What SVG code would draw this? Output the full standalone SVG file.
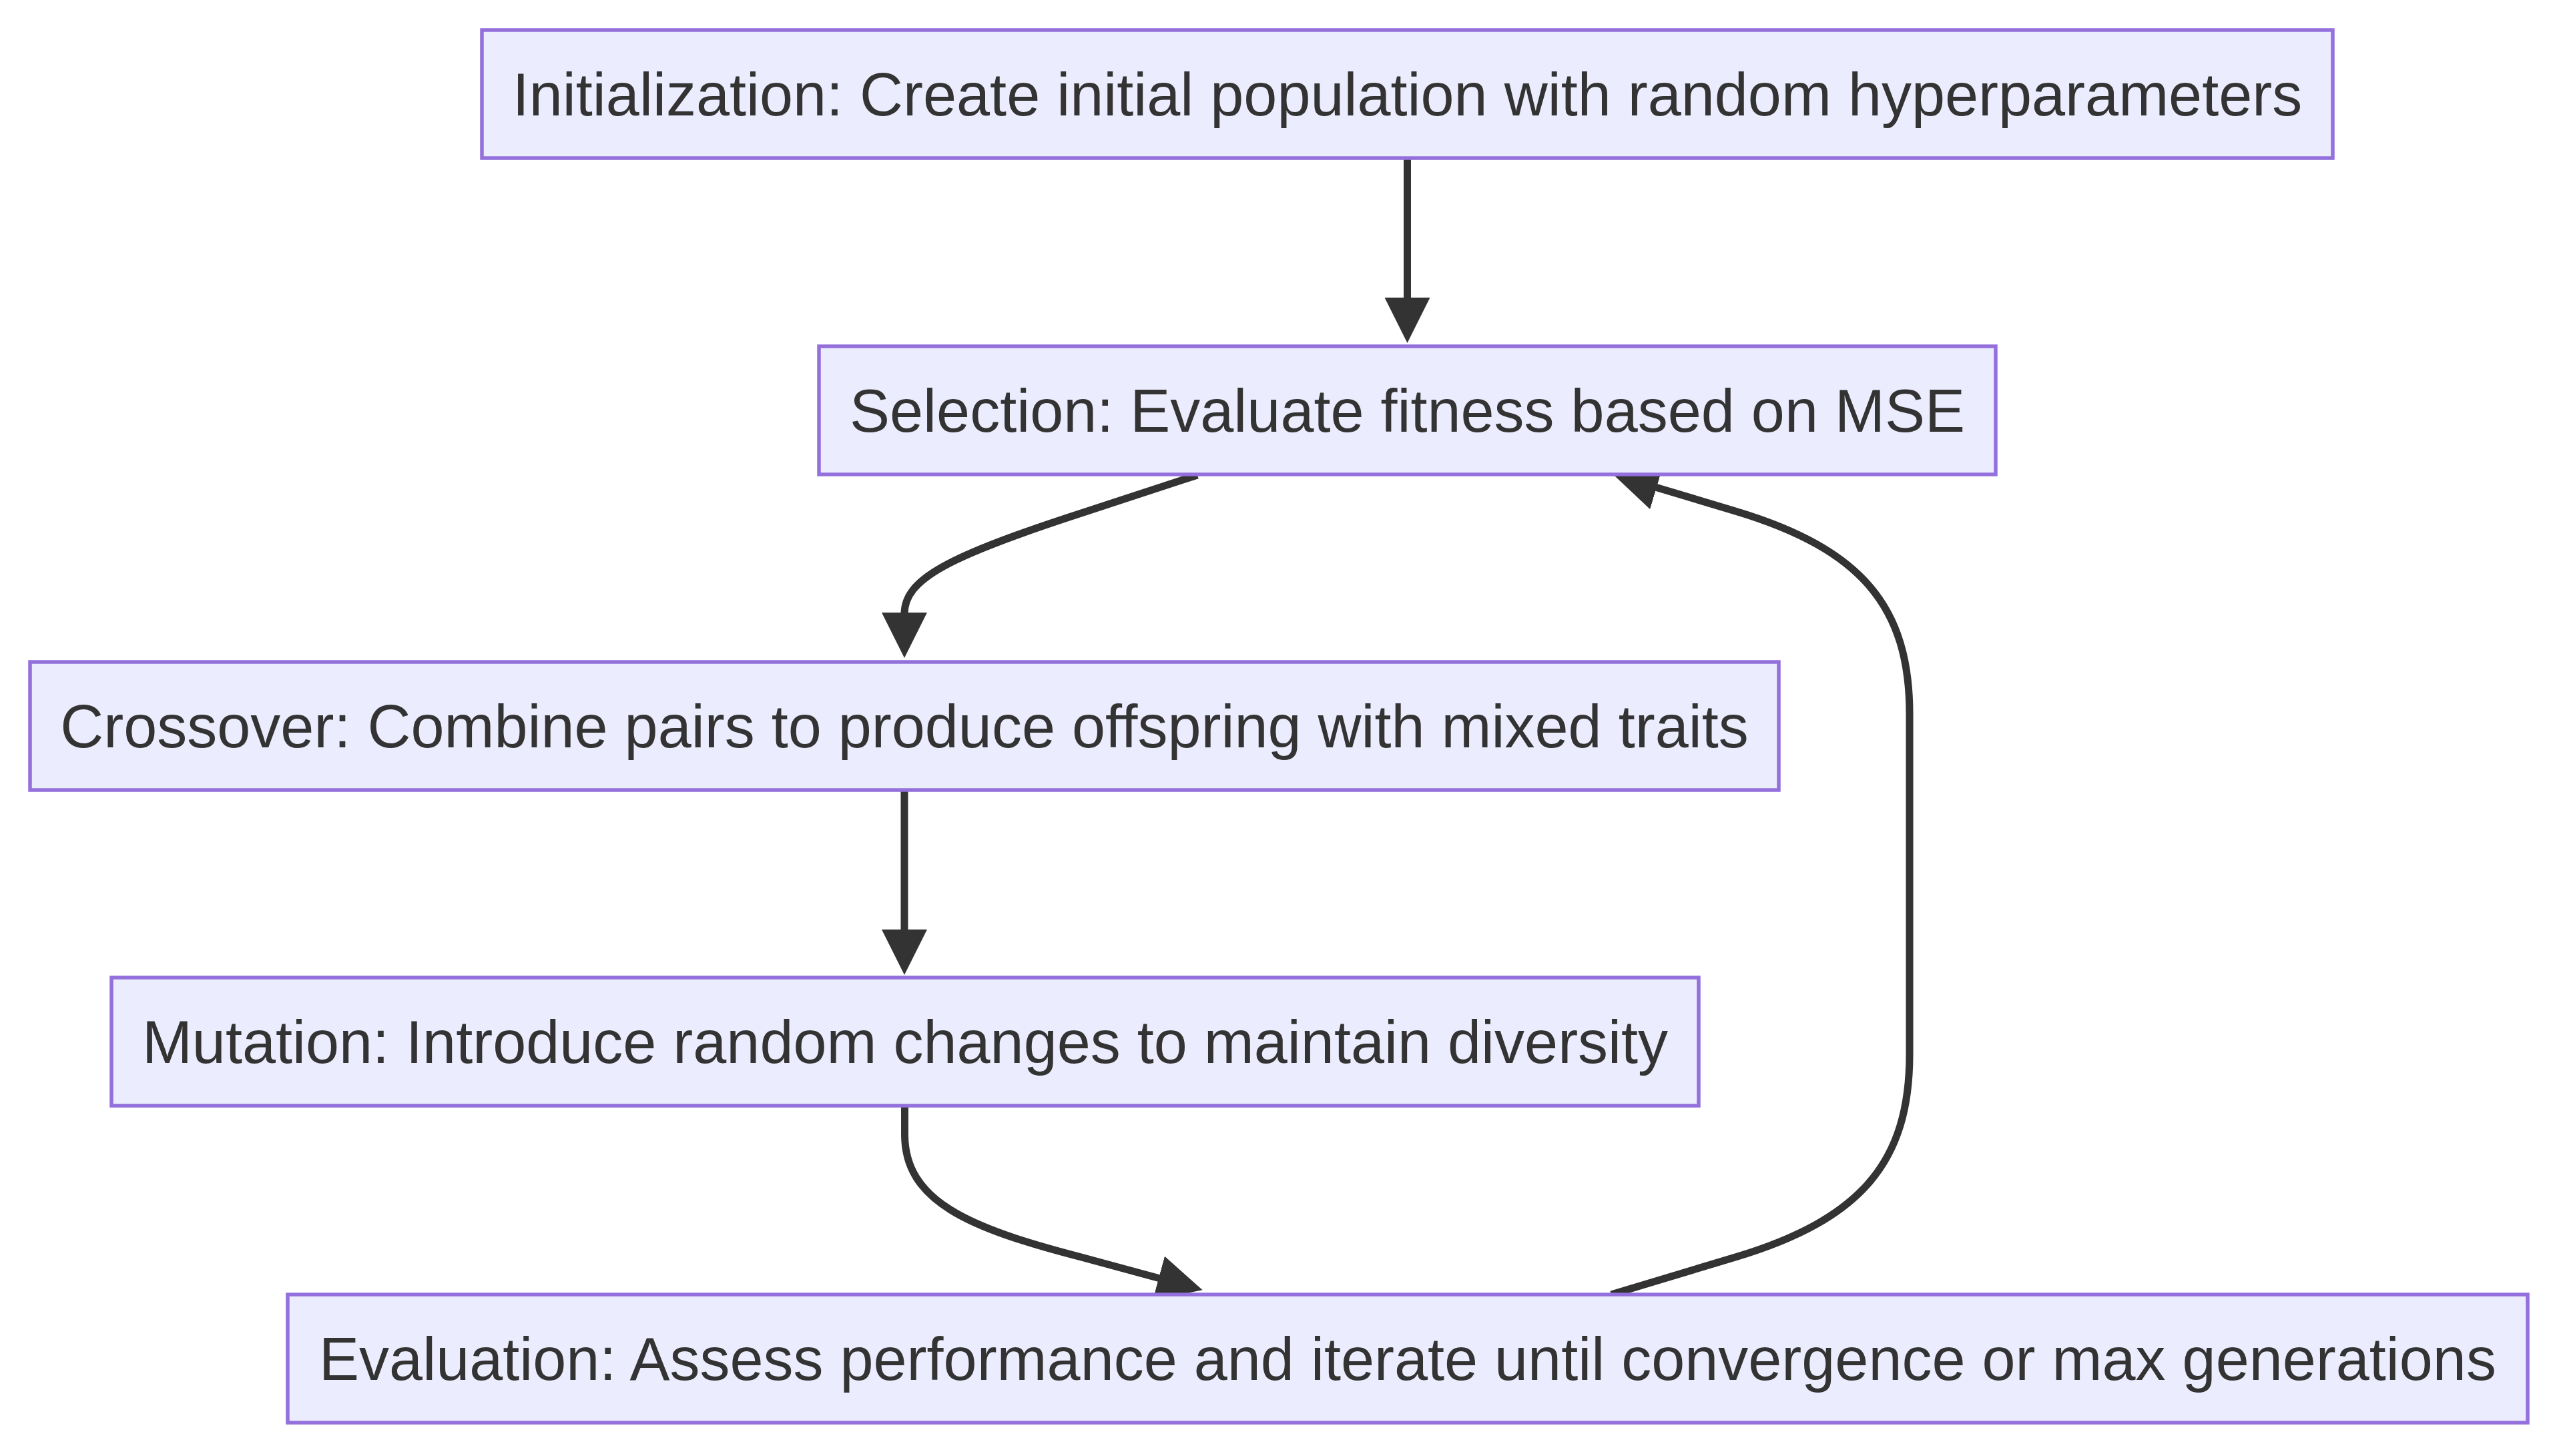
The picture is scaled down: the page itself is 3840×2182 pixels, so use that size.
<svg xmlns="http://www.w3.org/2000/svg" width="3840" height="2182" viewBox="0 0 3840 2182">
<style>
.node rect{fill:#ECECFF;stroke:#9370DB;stroke-width:5.5}
.node text{font-family:"Liberation Sans",Arial,Helvetica,sans-serif;font-size:90px;fill:#333333;text-anchor:middle}
.edge{fill:none;stroke:#333333;stroke-width:11;marker-end:url(#arrow)}
</style>
<defs>
<marker id="arrow" viewBox="0 0 10 10" refX="0.3" refY="5" markerWidth="68" markerHeight="68" markerUnits="userSpaceOnUse" orient="auto">
<path d="M0,0 L10,5 L0,10 z" fill="#333333"/>
</marker>
</defs>
<rect x="0" y="0" width="3840" height="2182" fill="#ffffff"/>
<g id="connectors">
<path class="edge" d="M2108.5,237 L2108.5,448"/>
<path class="edge" d="M1794,712 L1620,769 C1420,834 1355,868 1355,920"/>
<path class="edge" d="M1355,1184 L1355,1395"/>
<path class="edge" d="M1355.5,1657 L1355.5,1700 C1355.5,1800 1450,1840 1620,1884 L1738,1916"/>
<path class="edge" d="M2414,1940 L2600,1884 C2790,1827 2861,1740 2861,1580 L2861,1070 C2861,910 2790,823 2600,766 L2480,730"/>
</g>
<g id="node-init" class="node">
<rect x="722" y="45" width="2773" height="192"/>
<text x="2108.5" y="173">Initialization: Create initial population with random hyperparameters</text>
</g>
<g id="node-selection" class="node">
<rect x="1227" y="519" width="1763" height="192"/>
<text x="2108.5" y="647">Selection: Evaluate fitness based on MSE</text>
</g>
<g id="node-crossover" class="node">
<rect x="45" y="992" width="2620" height="192"/>
<text x="1355" y="1120">Crossover: Combine pairs to produce offspring with mixed traits</text>
</g>
<g id="node-mutation" class="node">
<rect x="167" y="1465" width="2378" height="192"/>
<text x="1356" y="1593">Mutation: Introduce random changes to maintain diversity</text>
</g>
<g id="node-evaluation" class="node">
<rect x="431" y="1940" width="3356" height="192"/>
<text x="2109" y="2068">Evaluation: Assess performance and iterate until convergence or max generations</text>
</g>
</svg>
